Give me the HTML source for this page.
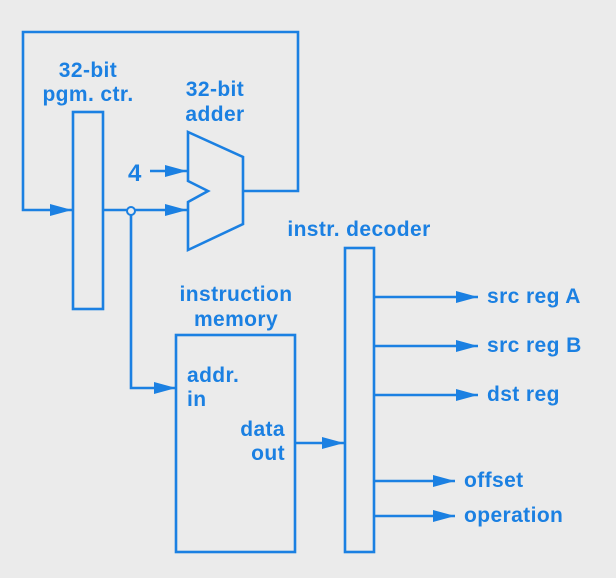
<!DOCTYPE html>
<html><head><style>
html,body{margin:0;padding:0;background:#ebebeb;}
svg{display:block}
text{font-family:"Liberation Sans",sans-serif;font-weight:bold;font-size:21px;letter-spacing:0.4px;fill:#1b80e2}
</style></head><body>
<svg width="616" height="578" viewBox="0 0 616 578">
<defs>
<marker id="b" markerWidth="22" markerHeight="12" refX="22" refY="6" orient="auto" markerUnits="userSpaceOnUse"><path d="M0,0 L22,6 L0,12z" fill="#1b80e2"/></marker></defs>
<g stroke="#1b80e2" stroke-width="2.6" fill="none">
<polyline points="243,191 298,191 298,32 23,32 23,210 72,210" marker-end="url(#b)"/>
<rect x="73" y="112" width="30" height="197"/>
<polygon points="188,132 243,157 243,224 188,250 188,202 208,191 188,181"/>
<line x1="103" y1="210" x2="187" y2="210" marker-end="url(#b)"/>
<line x1="150" y1="171" x2="187" y2="171" marker-end="url(#b)"/>
<polyline points="131,210 131,388 176,388" marker-end="url(#b)"/>
<rect x="176" y="335" width="119" height="217"/>
<rect x="345" y="248" width="29" height="304"/>
<line x1="295" y1="443" x2="344" y2="443" marker-end="url(#b)"/>
<line x1="374" y1="297" x2="478" y2="297" marker-end="url(#b)"/>
<line x1="374" y1="346" x2="478" y2="346" marker-end="url(#b)"/>
<line x1="374" y1="395" x2="478" y2="395" marker-end="url(#b)"/>
<line x1="374" y1="481" x2="455" y2="481" marker-end="url(#b)"/>
<line x1="374" y1="516" x2="455" y2="516" marker-end="url(#b)"/>
</g>
<circle cx="131" cy="211" r="4" fill="#ebebeb" stroke="#1b80e2" stroke-width="2"/>
<text x="88" y="77" text-anchor="middle">32-bit</text>
<text x="88" y="101" text-anchor="middle">pgm. ctr.</text>
<text x="215" y="96" text-anchor="middle">32-bit</text>
<text x="215" y="121" text-anchor="middle">adder</text>
<text x="128" y="181" style="font-size:24px">4</text>
<text x="359" y="236" text-anchor="middle">instr. decoder</text>
<text x="236" y="301" text-anchor="middle">instruction</text>
<text x="236" y="326" text-anchor="middle">memory</text>
<text x="187" y="382">addr.</text>
<text x="187" y="406">in</text>
<text x="285" y="436" text-anchor="end">data</text>
<text x="285" y="460" text-anchor="end">out</text>
<text x="487" y="303">src reg A</text>
<text x="487" y="352">src reg B</text>
<text x="487" y="401">dst reg</text>
<text x="464" y="487">offset</text>
<text x="464" y="522">operation</text>
</svg>
</body></html>
